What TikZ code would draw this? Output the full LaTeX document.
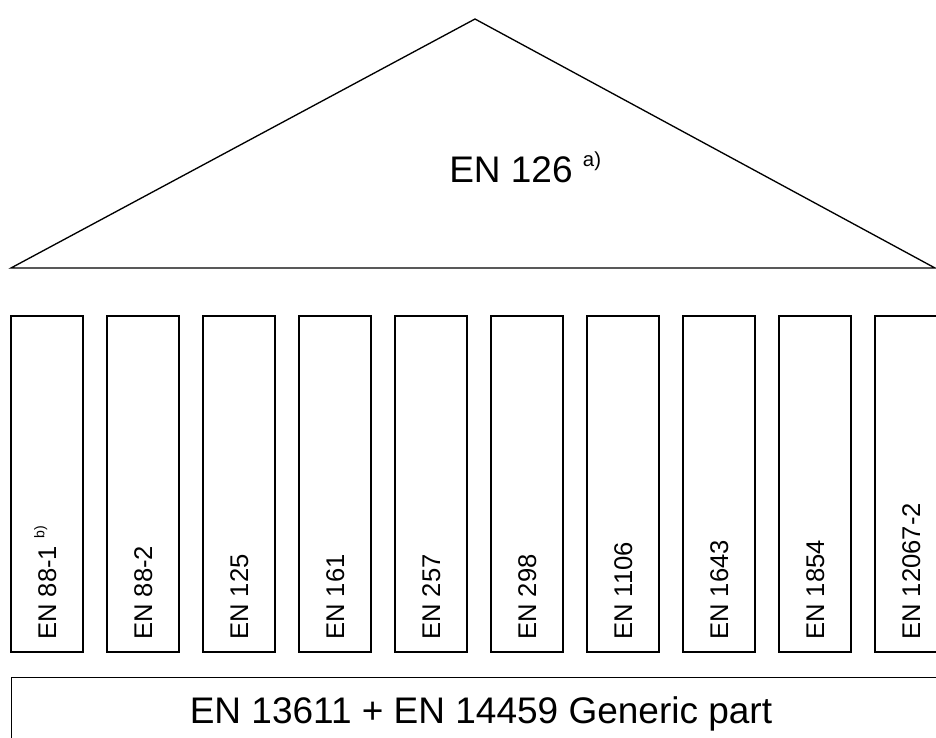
\documentclass[tikz,border=0pt]{standalone}
\usepackage{fontspec}
\setmainfont{Liberation Sans}
\usetikzlibrary{positioning}
\tikzstyle{linea} = [line width=1pt]
\tikzstyle{colonna} = [rectangle, draw, line width=1pt, minimum width=54pt,
    minimum height=252pt, inner sep=0pt]
\tikzstyle{etichetta} = [rotate=90, anchor=base west, inner sep=0pt,
    font=\fontsize{19.2pt}{23pt}\selectfont]
\tikzstyle{titolo} = [inner sep=0pt, font=\fontsize{27.75pt}{33pt}\selectfont]
\tikzstyle{zoccolo} = [rectangle, draw, line width=1pt, anchor=north west,
    minimum width=712pt, minimum height=80pt]
\newcommand{\nota}[1]{\raisebox{0.45em}{\scalebox{0.55}{#1}}}

\begin{document}
\begin{tikzpicture}[x=0.75pt,y=-0.75pt]
  \clip (0,0) rectangle (936,738);
  % tetto
  \draw[linea] (11,268) -- (475,19) -- (935,268) -- cycle;
  \node[titolo, anchor=base west] (tetto) at (449,183) {EN 126 \nota{a)}};
  % colonne
  \foreach \nome [count=\i from 0] in {EN 88-1 \nota{b)}, EN 88-2, EN 125,
      EN 161, EN 257, EN 298, EN 1106, EN 1643, EN 1854, EN 12067-2} {
    \node[colonna] (col\i) at (47+96*\i,484) {};
    \node[etichetta] (et\i) at (56+96*\i,640) {\nome};
  }
  % base
  \node[zoccolo] (base) at (11,677) {};
  \node[titolo, anchor=base] (generica) at (481,723) {EN 13611 + EN 14459 Generic part};
\end{tikzpicture}
\end{document}
